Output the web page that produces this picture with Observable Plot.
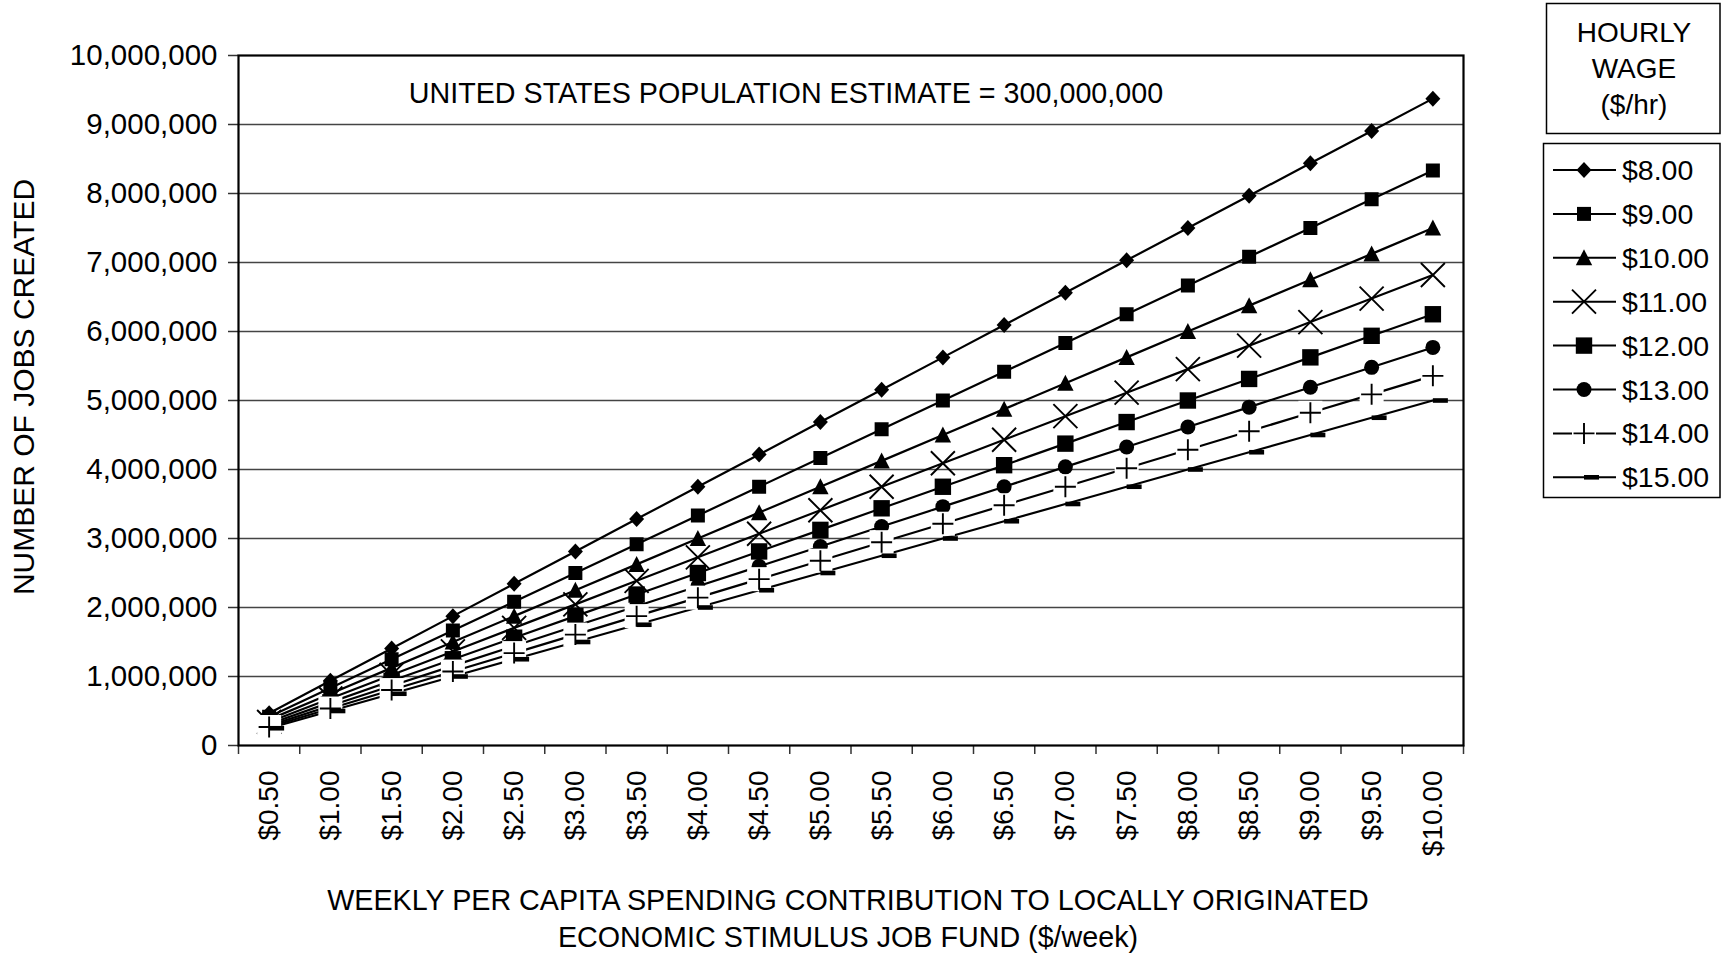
<!DOCTYPE html>
<html>
<head>
<meta charset="utf-8">
<script src="https://cdn.jsdelivr.net/npm/d3@7"></script>
<script src="https://cdn.jsdelivr.net/npm/@observablehq/plot@0.6"></script>
<style>
  html, body { margin: 0; padding: 0; background: #fff; }
  #chart { position: relative; width: 1721px; height: 953px; }
  svg { font-family: "Liberation Sans", Arial, sans-serif; }
</style>
</head>
<body>
<div id="chart"></div>
<script>
// ---- Data ----
const spending = [0.5, 1.0, 1.5, 2.0, 2.5, 3.0, 3.5, 4.0, 4.5, 5.0, 5.5, 6.0, 6.5, 7.0, 7.5, 8.0, 8.5, 9.0, 9.5, 10.0];
const wages = [8, 9, 10, 11, 12, 13, 14, 15];
const yTicks = [0, 1000000, 2000000, 3000000, 4000000, 5000000, 6000000, 7000000, 8000000, 9000000, 10000000];

const jobs8  = [468750, 937500, 1406250, 1875000, 2343750, 2812500, 3281250, 3750000, 4218750, 4687500, 5156250, 5625000, 6093750, 6562500, 7031250, 7500000, 7968750, 8437500, 8906250, 9375000];
const jobs9  = [416667, 833333, 1250000, 1666667, 2083333, 2500000, 2916667, 3333333, 3750000, 4166667, 4583333, 5000000, 5416667, 5833333, 6250000, 6666667, 7083333, 7500000, 7916667, 8333333];
const jobs10 = [375000, 750000, 1125000, 1500000, 1875000, 2250000, 2625000, 3000000, 3375000, 3750000, 4125000, 4500000, 4875000, 5250000, 5625000, 6000000, 6375000, 6750000, 7125000, 7500000];
const jobs11 = [340909, 681818, 1022727, 1363636, 1704545, 2045455, 2386364, 2727273, 3068182, 3409091, 3750000, 4090909, 4431818, 4772727, 5113636, 5454545, 5795455, 6136364, 6477273, 6818182];
const jobs12 = [312500, 625000, 937500, 1250000, 1562500, 1875000, 2187500, 2500000, 2812500, 3125000, 3437500, 3750000, 4062500, 4375000, 4687500, 5000000, 5312500, 5625000, 5937500, 6250000];
const jobs13 = [288462, 576923, 865385, 1153846, 1442308, 1730769, 2019231, 2307692, 2596154, 2884615, 3173077, 3461538, 3750000, 4038462, 4326923, 4615385, 4903846, 5192308, 5480769, 5769231];
const jobs14 = [267857, 535714, 803571, 1071429, 1339286, 1607143, 1875000, 2142857, 2410714, 2678571, 2946429, 3214286, 3482143, 3750000, 4017857, 4285714, 4553571, 4821429, 5089286, 5357143];
const jobs15 = [250000, 500000, 750000, 1000000, 1250000, 1500000, 1750000, 2000000, 2250000, 2500000, 2750000, 3000000, 3250000, 3500000, 3750000, 4000000, 4250000, 4500000, 4750000, 5000000];

const annotation = "UNITED STATES POPULATION ESTIMATE = 300,000,000";
const yTitle = "NUMBER OF JOBS CREATED";
const xTitle1 = "WEEKLY PER CAPITA SPENDING CONTRIBUTION TO LOCALLY ORIGINATED";
const xTitle2 = "ECONOMIC STIMULUS JOB FUND ($/week)";
const legendTitle = ["HOURLY", "WAGE", "($/hr)"];

const seriesValues = [jobs8, jobs9, jobs10, jobs11, jobs12, jobs13, jobs14, jobs15];

// ---- Tidy table ----
const table = [];
wages.forEach((w, k) => spending.forEach((s, i) => table.push({wage: w, s, jobs: seriesValues[k][i]})));

// category boundaries (Excel: categories between tick marks)
const boundaries = [spending[0] - 0.25, ...spending.map(s => s + 0.25)];

// ---- Marker symbols ----
const symDiamond = {draw(c) { c.moveTo(0, -8); c.lineTo(7.5, 0); c.lineTo(0, 8); c.lineTo(-7.5, 0); c.closePath(); }};
const symSquareS = {draw(c) { c.rect(-7, -7, 14, 14); }};
const symTriangle = {draw(c) { c.moveTo(0, -8.5); c.lineTo(8.2, 7.5); c.lineTo(-8.2, 7.5); c.closePath(); }};
const symTimes = {draw(c) { c.moveTo(-12, -12); c.lineTo(12, 12); c.moveTo(12, -12); c.lineTo(-12, 12); }};
const symSquareL = {draw(c) { c.rect(-8.2, -8.2, 16.4, 16.4); }};
const symCircle = {draw(c) { c.moveTo(7.5, 0); c.arc(0, 0, 7.5, 0, 2 * Math.PI); c.closePath(); }};
const symPlus = {draw(c) { c.moveTo(-10.5, 0); c.lineTo(10.5, 0); c.moveTo(0, -10.5); c.lineTo(0, 10.5); }};
const symDash = {draw(c) { c.rect(0, -2.3, 15, 4.6); }};
const symBox = {draw(c) { c.rect(-12, -12, 24, 24); }};

const styles = [
  {sym: symDiamond, filled: true},
  {sym: symSquareS, filled: true},
  {sym: symTriangle, filled: true},
  {sym: symTimes, filled: false},
  {sym: symSquareL, filled: true},
  {sym: symCircle, filled: true},
  {sym: symPlus, filled: false, box: true},
  {sym: symDash, filled: true}
];

const dotMarks = [];
wages.forEach((w, k) => {
  const st = styles[k];
  const d = table.filter(r => r.wage === w);
  if (st.box) dotMarks.push(Plot.dot(d, {x: "s", y: "jobs", symbol: symBox, r: 5, fill: "white", stroke: "none"}));
  dotMarks.push(Plot.dot(d, st.filled
    ? {x: "s", y: "jobs", symbol: st.sym, r: 5, fill: "black", stroke: "none"}
    : {x: "s", y: "jobs", symbol: st.sym, r: 5, fill: "none", stroke: "black", strokeWidth: 1.9}));
});

const fmtMoney = d => "$" + d.toFixed(2);

const chart = Plot.plot({
  width: 1721,
  height: 953,
  marginLeft: 238,
  marginRight: 258,
  marginTop: 55,
  marginBottom: 208,
  x: {domain: [boundaries[0], boundaries[boundaries.length - 1]], axis: null},
  y: {domain: [0, 10000000], axis: null},
  style: {fontFamily: "'Liberation Sans', Arial, sans-serif", fontSize: "28px", background: "white", overflow: "visible", color: "black"},
  marks: [
    Plot.ruleY(yTicks.slice(1, -1), {stroke: "#444", strokeWidth: 1.5}),
    // y tick marks
    Plot.ruleY(yTicks, {x1: boundaries[0], x2: boundaries[0], insetLeft: -10, stroke: "#333", strokeWidth: 1.5}),
    // x tick marks
    Plot.ruleX(boundaries, {y1: 0, y2: 0, insetBottom: -9, stroke: "#333", strokeWidth: 1.5}),
    Plot.frame({stroke: "black", strokeWidth: 2.2}),
    Plot.text(yTicks, {x: boundaries[0], y: d => d, text: d => d3.format(",")(d), textAnchor: "end", lineAnchor: "middle", dx: -21, fontSize: 29.5, fill: "black"}),
    Plot.text(spending, {x: d => d, y: 0, text: fmtMoney, rotate: -90, textAnchor: "end", lineAnchor: "middle", dy: 25, fontSize: 28, fill: "black"}),
    Plot.text([annotation], {x: 1.64, y: 9450000, text: d => d, textAnchor: "start", lineAnchor: "middle", fontSize: 28.7, fill: "black"}),
    Plot.line(table, {x: "s", y: "jobs", z: "wage", stroke: "black", strokeWidth: 2.2}),
    ...dotMarks
  ]
});

document.getElementById("chart").appendChild(chart);

// ---- Titles and legend (non-data decorations) ----
const svg = d3.select(chart);
const font = "'Liberation Sans', Arial, sans-serif";

svg.append("text")
  .attr("transform", "translate(34,387) rotate(-90)")
  .attr("text-anchor", "middle")
  .attr("font-family", font).attr("font-size", 30).attr("fill", "black")
  .text(yTitle);

svg.append("text").attr("x", 848).attr("y", 910).attr("text-anchor", "middle")
  .attr("font-family", font).attr("font-size", 28.7).attr("fill", "black").text(xTitle1);
svg.append("text").attr("x", 848).attr("y", 947).attr("text-anchor", "middle")
  .attr("font-family", font).attr("font-size", 28.7).attr("fill", "black").text(xTitle2);

// legend title box
svg.append("rect").attr("x", 1546.5).attr("y", 3.5).attr("width", 173.5).attr("height", 130)
  .attr("fill", "white").attr("stroke", "black").attr("stroke-width", 1.5);
legendTitle.forEach((t, i) => {
  svg.append("text").attr("x", 1634).attr("y", 42 + i * 36).attr("text-anchor", "middle")
    .attr("font-family", font).attr("font-size", 28).attr("fill", "black").text(t);
});

// legend item box
svg.append("rect").attr("x", 1543.5).attr("y", 143.5).attr("width", 176.5).attr("height", 354)
  .attr("fill", "white").attr("stroke", "black").attr("stroke-width", 1.5);

wages.forEach((w, k) => {
  const cy = 170 + k * 43.9;
  const st = styles[k];
  const g = svg.append("g");
  g.append("line").attr("x1", 1553).attr("x2", 1616).attr("y1", cy).attr("y2", cy)
    .attr("stroke", "black").attr("stroke-width", 2);
  if (st.box) g.append("path").attr("transform", `translate(1584,${cy})`)
    .attr("d", d3.symbol(symBox)()).attr("fill", "white");
  const p = g.append("path").attr("transform", `translate(1584,${cy})`).attr("d", d3.symbol(st.sym)());
  if (st.filled) p.attr("fill", "black");
  else p.attr("fill", "none").attr("stroke", "black").attr("stroke-width", 1.9);
  g.append("text").attr("x", 1622).attr("y", cy + 10).attr("text-anchor", "start")
    .attr("font-family", font).attr("font-size", 28.5).attr("fill", "black").text(fmtMoney(w));
});
</script>
</body>
</html>
